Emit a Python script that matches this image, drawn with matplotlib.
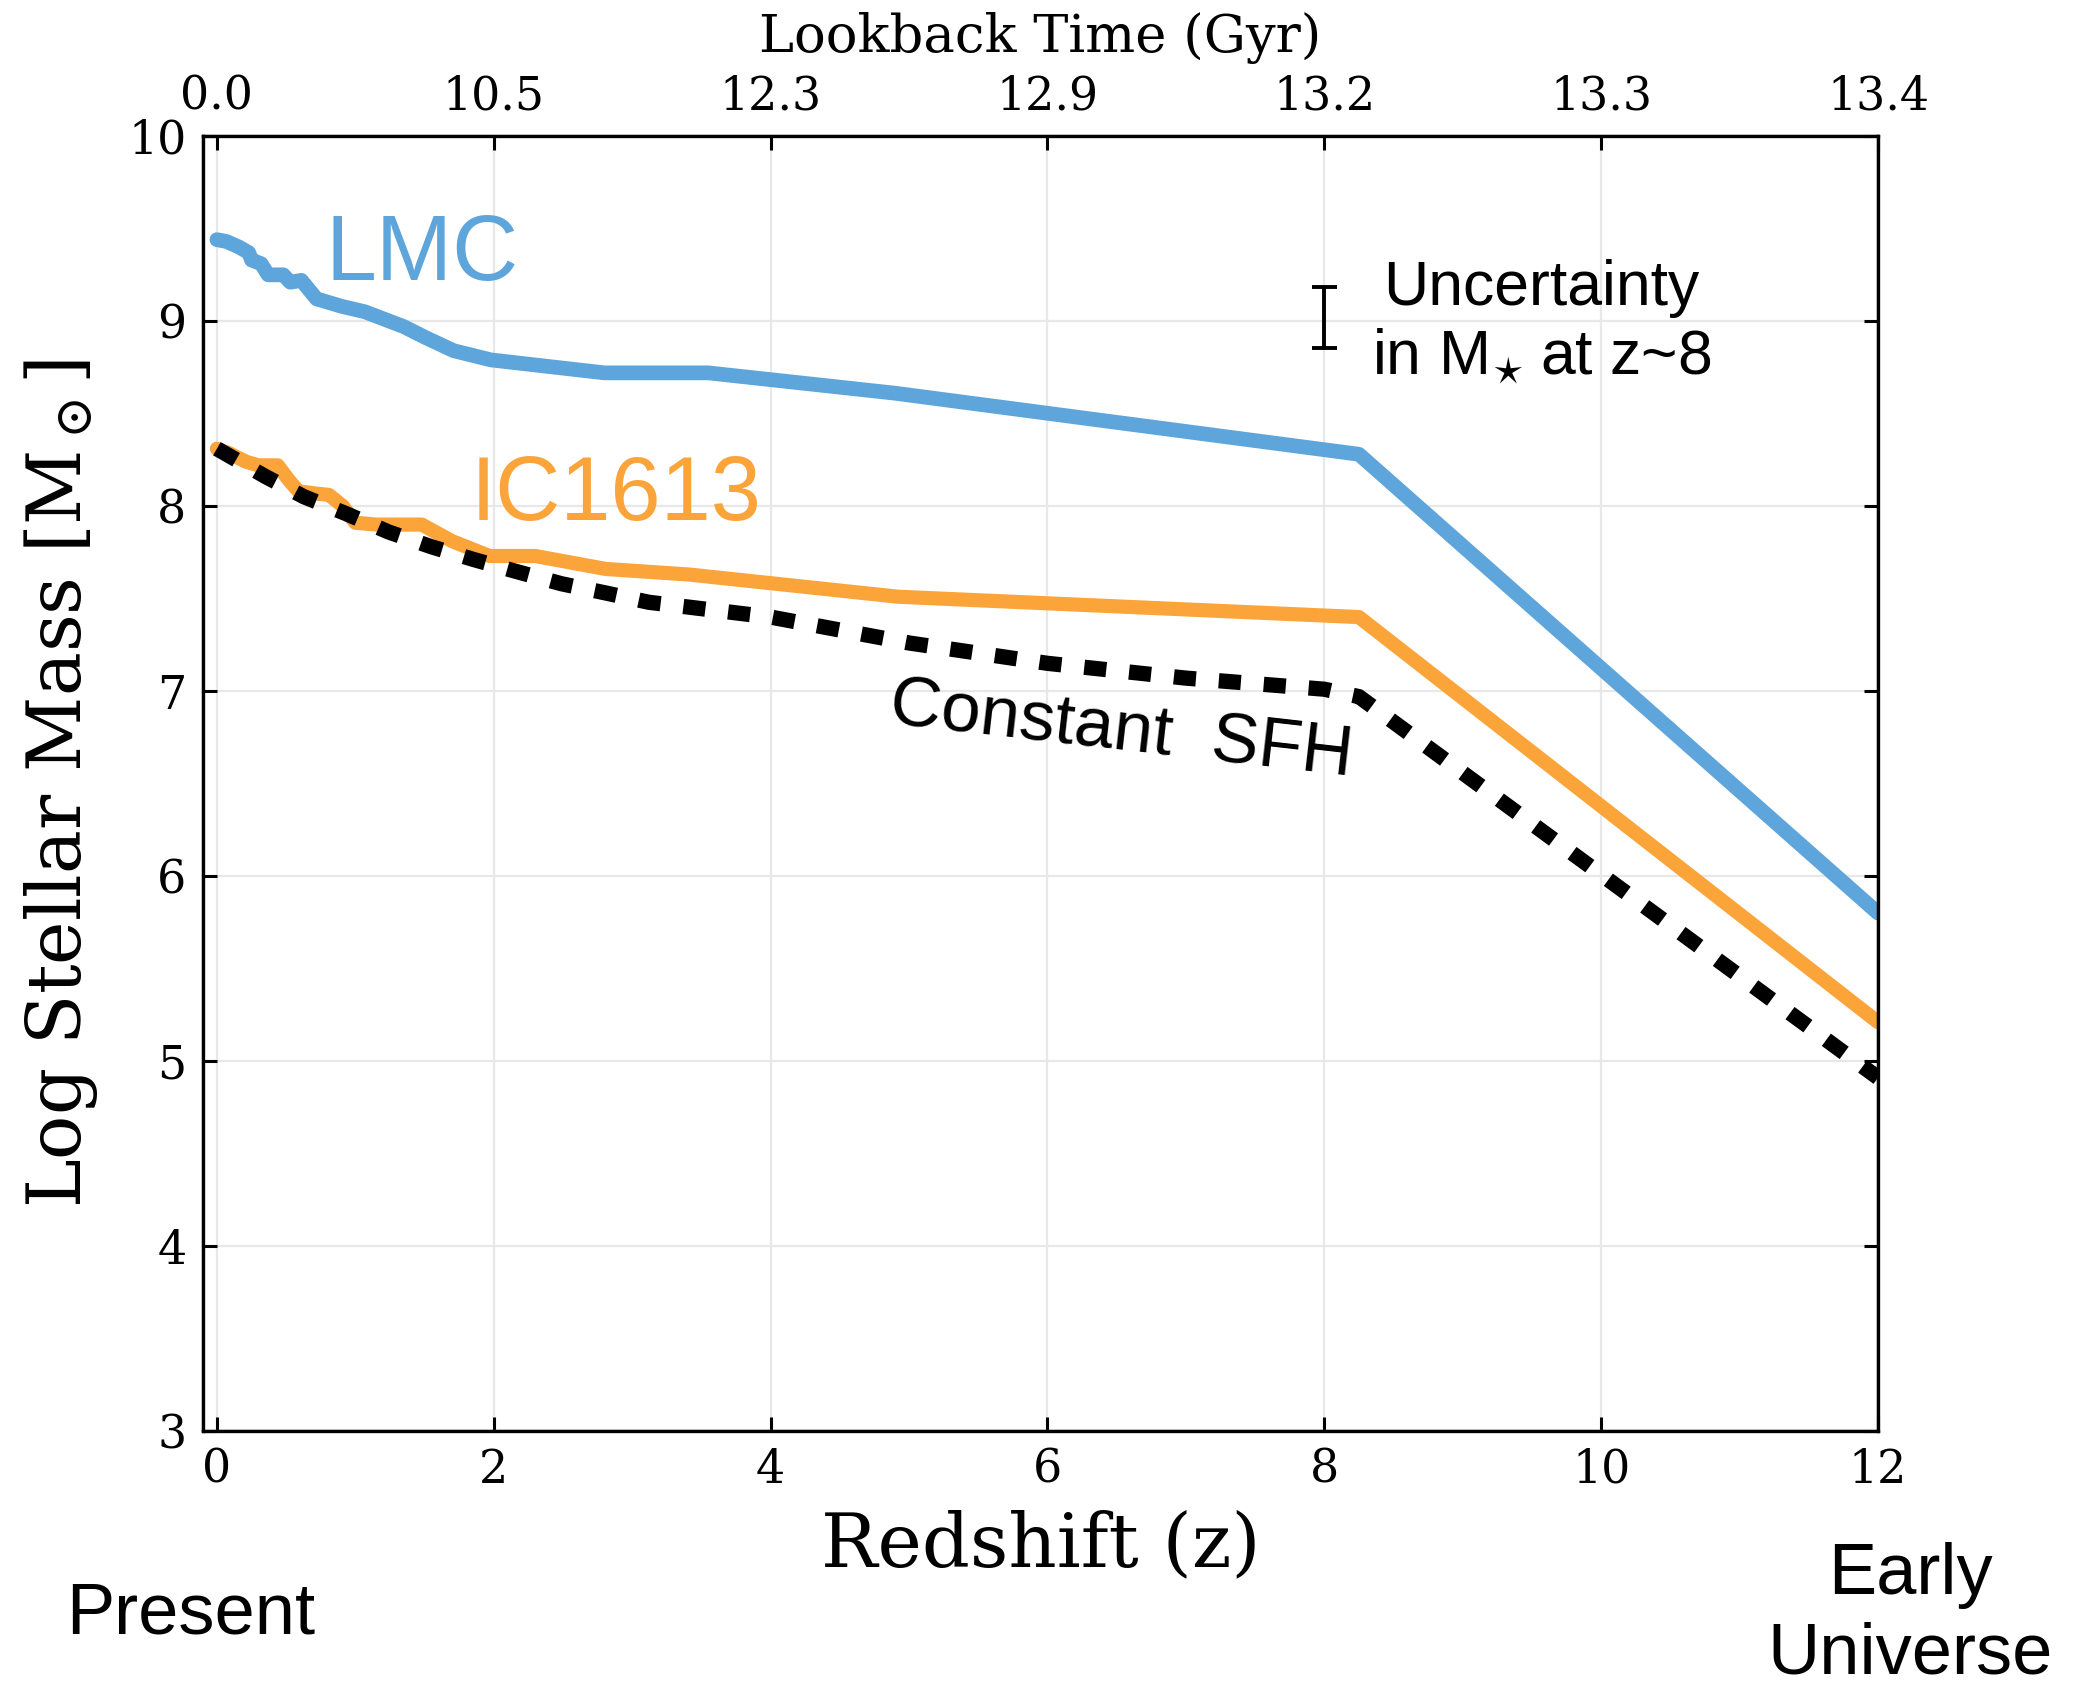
import matplotlib
matplotlib.use('Agg')
import matplotlib.pyplot as plt

# redshift / log stellar mass
lmc_z = [0.0, 0.07, 0.16, 0.23, 0.25, 0.32, 0.37, 0.48, 0.53, 0.61, 0.72, 0.90,
         1.07, 1.35, 1.51, 1.71, 1.98, 2.80, 3.55, 4.90, 8.25, 12.0]
lmc_m = [9.44, 9.43, 9.40, 9.37, 9.33, 9.31, 9.25, 9.25, 9.21, 9.22, 9.12, 9.08,
         9.05, 8.97, 8.91, 8.84, 8.79, 8.72, 8.72, 8.61, 8.28, 5.80]

ic_z = [0.0, 0.09, 0.21, 0.30, 0.44, 0.52, 0.59, 0.69, 0.81, 0.91, 1.00, 1.15,
        1.48, 1.70, 1.97, 2.30, 2.81, 3.41, 4.92, 8.25, 12.0]
ic_m = [8.31, 8.285, 8.24, 8.22, 8.22, 8.14, 8.08, 8.07, 8.06, 8.00, 7.91, 7.90,
        7.90, 7.81, 7.73, 7.73, 7.66, 7.63, 7.51, 7.40, 5.21]

const_z = [0.0, 0.35, 0.63, 0.93, 1.24, 1.55, 1.86, 2.17, 2.49, 2.81, 3.12,
           4.0, 5.0, 6.0, 7.0, 8.0, 8.25, 12.0]
const_m = [8.31, 8.16, 8.05, 7.96, 7.86, 7.78, 7.71, 7.645, 7.58, 7.53, 7.48,
           7.40, 7.26, 7.15, 7.07, 7.01, 6.97, 4.91]

# uncertainty bar at z~8
unc_z = [8.0]
unc_m = [9.02]
unc_err = [0.163]

z_ticks = [0, 2, 4, 6, 8, 10, 12]
lookback_labels = ['0.0', '10.5', '12.3', '12.9', '13.2', '13.3', '13.4']
mass_ticks = [3, 4, 5, 6, 7, 8, 9, 10]

blue = '#5DA5DA'
orange = '#FAA43A'
sans = 'Liberation Sans'

plt.rcParams['font.family'] = 'DejaVu Serif'
plt.rcParams['mathtext.fontset'] = 'dejavuserif'

fig = plt.figure(figsize=(10.37, 8.42), dpi=200)
ax = fig.add_axes([0.0979, 0.1502, 0.8076, 0.769])

ax.plot(lmc_z, lmc_m, color=blue, lw=5.3, solid_capstyle='round', solid_joinstyle='round')
ax.plot(ic_z, ic_m, color=orange, lw=5.1, solid_capstyle='round', solid_joinstyle='round')
ax.plot(const_z, const_m, color='black', lw=5.5, linestyle=(0, (1.45, 1.5)),
        dash_capstyle='butt')

ax.errorbar(unc_z, unc_m, yerr=unc_err, fmt='none', ecolor='black',
            elinewidth=1.4, capsize=4.5, capthick=1.4)

ax.set_xlim(-0.1, 12)
ax.set_ylim(3, 10)
ax.set_xticks(z_ticks)
ax.set_yticks(mass_ticks)
ax.grid(True, color='#e8e8e8', lw=0.8)
ax.set_axisbelow(True)

ax.tick_params(direction='in', length=5, width=1.1, labelsize=16.5, pad=6,
               right=True, top=False)
for s in ax.spines.values():
    s.set_linewidth(1.2)

ax.set_xlabel('Redshift (z)', fontsize=27, labelpad=6)
ax.set_ylabel('Log Stellar Mass [M$_\\odot$]', fontsize=26.5, labelpad=10)

ax2 = ax.twiny()
ax2.set_xlim(ax.get_xlim())
ax2.set_xticks(z_ticks)
ax2.set_xticklabels(lookback_labels)
ax2.tick_params(direction='in', length=5, width=1.1, labelsize=16.5, pad=6)
ax2.set_xlabel('Lookback Time (Gyr)', fontsize=19, labelpad=8)

# annotations
ax.text(0.786, 9.22, 'LMC', color=blue, fontsize=33, family=sans,
        ha='left', va='baseline')
ax.text(1.83, 7.925, 'IC1613', color=orange, fontsize=32.5, family=sans,
        ha='left', va='baseline')
ax.text(6.53, 6.78, 'Constant  SFH', color='black', fontsize=25.5, family=sans,
        ha='center', va='center', rotation=-6.5, rotation_mode='anchor')
ax.text(9.57, 8.99, 'Uncertainty\nin M$_{\\!\\star}\\!$ at z~8', fontsize=22.5, family=sans,
        ha='center', va='center', multialignment='center')

fig.text(66 / 2074, 1 - 1633.5 / 1684, 'Present', fontsize=26, family=sans,
         ha='left', va='baseline')
fig.text(0.921, 1 - 1594 / 1684, 'Early', fontsize=26, family=sans,
         ha='center', va='baseline')
fig.text(0.921, 1 - 1673 / 1684, 'Universe', fontsize=26, family=sans,
         ha='center', va='baseline')

fig.savefig('out.png', dpi=200)
